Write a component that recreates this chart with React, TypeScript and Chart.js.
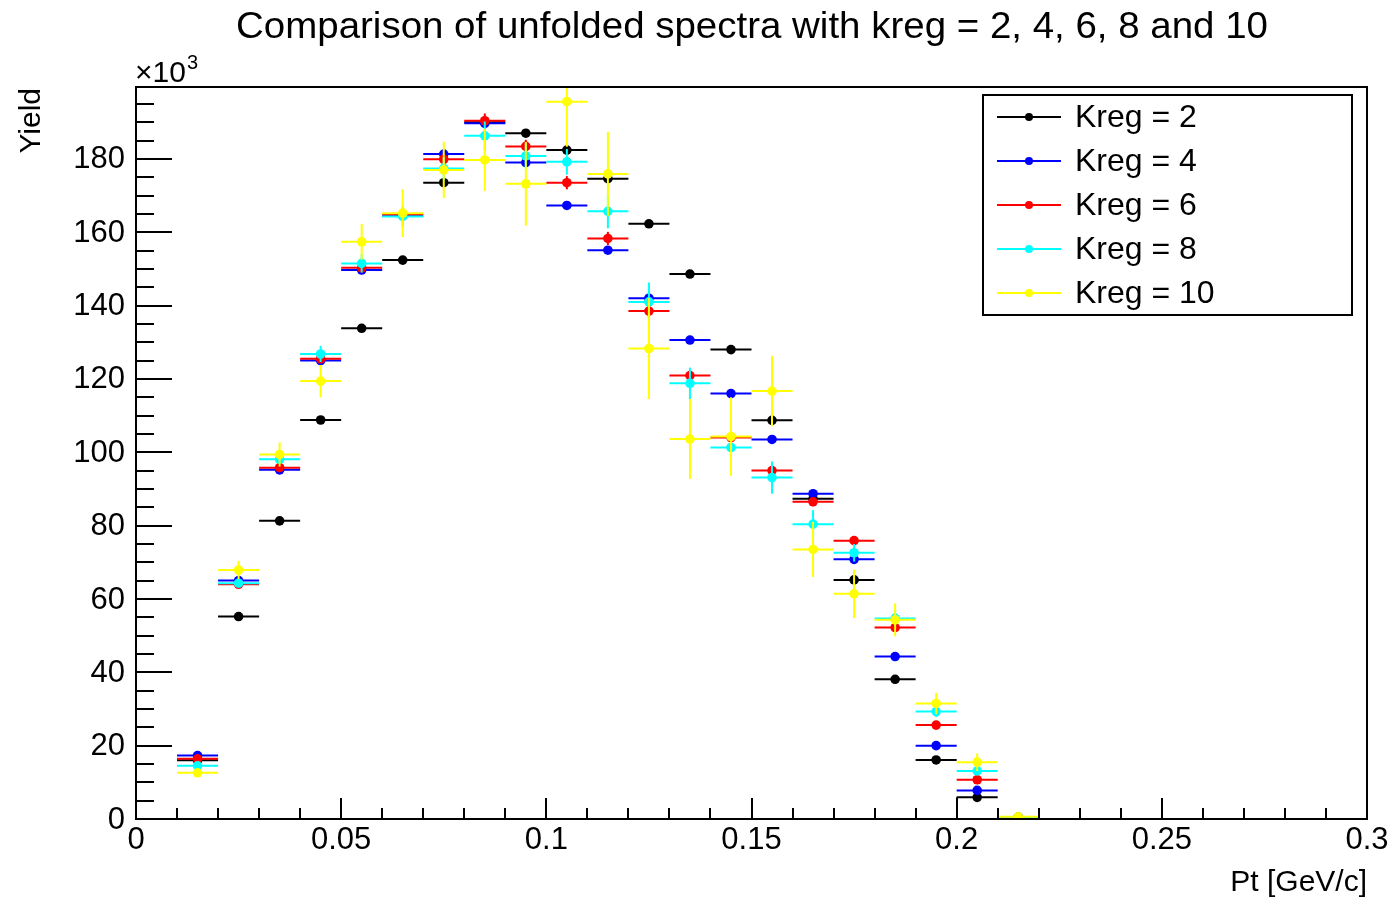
import React, { useEffect, useRef } from "react";
import { Chart, registerables } from "chart.js";

Chart.register(...registerables);

// ---------- data (Yield in units of 10^3) ----------
const ptBins = [
  0.015, 0.025, 0.035, 0.045, 0.055, 0.065, 0.075, 0.085, 0.095, 0.105, 0.115,
  0.125, 0.135, 0.145, 0.155, 0.165, 0.175, 0.185, 0.195, 0.205, 0.215,
];
const binHalfWidth = 0.005;

const yieldKreg2 = [16.0, 55.2, 81.3, 108.8, 133.8, 152.4, 173.5, 190.0, 187.0, 182.4, 174.6, 162.3, 148.6, 128.0, 108.7, 87.3, 65.2, 38.1, 16.1, 5.9, 0.4];
const errKreg2 = [0.2, 0.3, 0.3, 0.4, 0.4, 0.4, 0.5, 0.5, 0.5, 0.5, 0.5, 0.5, 0.5, 0.4, 0.4, 0.4, 0.3, 0.3, 0.2, 0.2, 0.1];

const yieldKreg4 = [17.3, 65.0, 95.2, 125.0, 149.7, 164.5, 181.3, 189.7, 179.0, 167.3, 155.1, 142.0, 130.6, 116.0, 103.5, 88.7, 70.8, 44.3, 20.0, 7.8, 0.4];
const errKreg4 = [0.3, 0.5, 0.6, 0.7, 0.8, 0.8, 0.9, 0.9, 0.9, 0.9, 0.9, 0.9, 0.8, 0.8, 0.7, 0.7, 0.6, 0.5, 0.4, 0.3, 0.1];

const yieldKreg6 = [16.4, 64.0, 95.8, 125.5, 150.3, 164.8, 179.9, 190.4, 183.4, 173.5, 158.3, 138.5, 120.9, 104.0, 95.0, 86.5, 75.9, 52.2, 25.6, 10.7, 0.5];
const errKreg6 = [0.2, 0.5, 0.8, 1.0, 1.2, 1.4, 1.6, 2.0, 1.8, 1.8, 1.8, 1.8, 1.6, 1.5, 1.3, 1.2, 1.0, 0.9, 0.7, 0.5, 0.1];

const yieldKreg8 = [14.5, 64.3, 98.1, 126.8, 151.5, 164.3, 177.4, 186.3, 180.8, 179.2, 165.7, 141.0, 118.8, 101.3, 93.1, 80.4, 72.6, 54.7, 29.3, 13.1, 0.5];
const errKreg8 = [0.3, 0.8, 1.2, 2.2, 2.5, 2.8, 3.0, 3.9, 3.5, 3.5, 4.6, 5.3, 4.3, 4.0, 4.4, 3.8, 2.4, 2.0, 1.5, 1.0, 0.2];

const yieldKreg10 = [12.6, 67.9, 99.4, 119.4, 157.4, 165.2, 177.0, 179.7, 173.2, 195.6, 175.9, 128.3, 103.6, 104.3, 116.7, 73.5, 61.4, 54.3, 31.5, 15.5, 0.6];
const errKreg10 = [0.8, 2.5, 3.3, 4.4, 4.9, 6.5, 7.7, 8.5, 11.4, 12.3, 11.5, 13.8, 10.9, 10.7, 9.6, 7.5, 6.6, 4.5, 2.9, 2.4, 0.3];

const seriesNames = ["Kreg = 2", "Kreg = 4", "Kreg = 6", "Kreg = 8", "Kreg = 10"];
const seriesColors = ["#000000", "#0000ff", "#ff0000", "#00ffff", "#ffff00"];
const seriesYields = [yieldKreg2, yieldKreg4, yieldKreg6, yieldKreg8, yieldKreg10];
const seriesErrors = [errKreg2, errKreg4, errKreg6, errKreg8, errKreg10];

const xTickValues = [0, 0.05, 0.1, 0.15, 0.2, 0.25, 0.3];
const xTickLabels = ["0", "0.05", "0.1", "0.15", "0.2", "0.25", "0.3"];
const yTickValues = [0, 20, 40, 60, 80, 100, 120, 140, 160, 180];
const yTickLabels = ["0", "20", "40", "60", "80", "100", "120", "140", "160", "180"];

const titleText = "Comparison of unfolded spectra with kreg = 2, 4, 6, 8 and 10";
const xAxisTitle = "Pt [GeV/c]";
const yAxisTitle = "Yield";

const FONT = '"Liberation Sans", Arial, Helvetica, sans-serif';

const errorBarPlugin = {
  id: "errorBars",
  beforeDatasetDraw(chart: any, args: any) {
    const ds: any = chart.data.datasets[args.index];
    const xs = chart.scales.x;
    const ys = chart.scales.y;
    const ctx = chart.ctx;
    const a = chart.chartArea;
    ctx.save();
    ctx.beginPath();
    ctx.rect(a.left, a.top, a.right - a.left, a.bottom - a.top);
    ctx.clip();
    ctx.strokeStyle = ds.borderColor;
    ctx.lineWidth = 2;
    ds.data.forEach((p: any, i: number) => {
      const py = ys.getPixelForValue(p.y);
      const xl = xs.getPixelForValue(p.x - binHalfWidth);
      const xr = xs.getPixelForValue(p.x + binHalfWidth);
      const px = xs.getPixelForValue(p.x);
      ctx.beginPath();
      ctx.moveTo(xl, py);
      ctx.lineTo(xr, py);
      ctx.stroke();
      const e = ds.errors[i];
      const yt = ys.getPixelForValue(p.y + e);
      const yb = ys.getPixelForValue(p.y - e);
      if (yb - yt > 3) {
        ctx.beginPath();
        ctx.moveTo(px, yt);
        ctx.lineTo(px, yb);
        ctx.stroke();
      }
    });
    // small ROOT artefact: vertical edge at the low edge of the last filled black bin
    if (args.index === 0) {
      const k = 19;
      const ex = Math.round(xs.getPixelForValue(ptBins[k] - binHalfWidth));
      ctx.beginPath();
      ctx.moveTo(ex, ys.getPixelForValue(seriesYields[0][k]));
      ctx.lineTo(ex, ys.getPixelForValue(0));
      ctx.stroke();
    }
    ctx.restore();
  },
};

const framePlugin = {
  id: "rootFrame",
  afterDraw(chart: any) {
    const ctx = chart.ctx;
    const a = chart.chartArea;
    const xs = chart.scales.x;
    const ys = chart.scales.y;
    ctx.save();
    ctx.strokeStyle = "#000";
    ctx.fillStyle = "#000";
    ctx.lineWidth = 2;
    // frame
    ctx.strokeRect(a.left, a.top, a.right - a.left, a.bottom - a.top);

    // x ticks
    for (let i = 0; i <= 30; i++) {
      const v = i * 0.01;
      const px = Math.round(xs.getPixelForValue(v));
      const len = i % 5 === 0 ? 21 : 11;
      ctx.beginPath();
      ctx.moveTo(px, a.bottom);
      ctx.lineTo(px, a.bottom - len);
      ctx.stroke();
    }
    // y ticks
    for (let i = 0; i * 5 <= ys.max; i++) {
      const v = i * 5;
      const py = Math.round(ys.getPixelForValue(v));
      const len = i % 4 === 0 ? 36 : 18;
      ctx.beginPath();
      ctx.moveTo(a.left, py);
      ctx.lineTo(a.left + len, py);
      ctx.stroke();
    }

    // tick labels
    ctx.font = `31px ${FONT}`;
    ctx.textAlign = "center";
    ctx.textBaseline = "middle";
    xTickValues.forEach((v, i) => {
      ctx.fillText(xTickLabels[i], xs.getPixelForValue(v), a.bottom + 21);
    });
    ctx.textAlign = "right";
    yTickValues.forEach((v, i) => {
      ctx.fillText(yTickLabels[i], a.left - 11, ys.getPixelForValue(v) + 1);
    });

    // x10^3
    ctx.textAlign = "left";
    ctx.textBaseline = "alphabetic";
    ctx.font = `30px ${FONT}`;
    ctx.fillText("\u00d710", a.left - 1, a.top - 5);
    const w = ctx.measureText("\u00d710").width;
    ctx.font = `20px ${FONT}`;
    ctx.fillText("3", a.left - 1 + w + 1, a.top - 18);

    // axis titles
    ctx.font = `30px ${FONT}`;
    ctx.textAlign = "right";
    ctx.fillText(xAxisTitle, a.right, 891);
    ctx.save();
    ctx.translate(40, a.top + 1);
    ctx.rotate(-Math.PI / 2);
    ctx.textAlign = "right";
    ctx.textBaseline = "alphabetic";
    ctx.fillText(yAxisTitle, 0, 0);
    ctx.restore();

    // title
    ctx.font = `36px ${FONT}`;
    ctx.textAlign = "center";
    ctx.textBaseline = "alphabetic";
    const tw = ctx.measureText(titleText).width;
    const targetW = 1032;
    ctx.save();
    ctx.translate(752, 38);
    ctx.scale(targetW / tw, 1);
    ctx.fillText(titleText, 0, 0);
    ctx.restore();

    // legend
    const lx = 983, ly = 95, lw = 369, lh = 220;
    ctx.fillStyle = "#fff";
    ctx.fillRect(lx, ly, lw, lh);
    ctx.strokeStyle = "#000";
    ctx.lineWidth = 2;
    ctx.strokeRect(lx, ly, lw, lh);
    seriesNames.forEach((name, i) => {
      const ry = 117 + i * 44;
      ctx.strokeStyle = seriesColors[i];
      ctx.lineWidth = 2;
      ctx.beginPath();
      ctx.moveTo(997, ry);
      ctx.lineTo(1061, ry);
      ctx.stroke();
      ctx.fillStyle = seriesColors[i];
      ctx.beginPath();
      ctx.arc(1029, ry, 4, 0, Math.PI * 2);
      ctx.fill();
      ctx.fillStyle = "#000";
      ctx.font = `32px ${FONT}`;
      ctx.textAlign = "left";
      ctx.textBaseline = "middle";
      ctx.fillText(name, 1075, ry + 1);
    });
    ctx.restore();
  },
};

export default function App() {
  const ref = useRef<HTMLCanvasElement | null>(null);
  useEffect(() => {
    if (!ref.current) return;
    const datasets = seriesNames.map((name, s) => ({
      label: name,
      data: ptBins.map((x, i) => ({ x, y: seriesYields[s][i] })),
      errors: seriesErrors[s],
      borderColor: seriesColors[s],
      backgroundColor: seriesColors[s],
      pointBackgroundColor: seriesColors[s],
      pointBorderWidth: 0,
      pointRadius: 4.8,
      pointHoverRadius: 4.8,
      showLine: false,
      order: seriesNames.length - s,
    }));
    const chart = new Chart(ref.current, {
      type: "scatter",
      data: { datasets } as any,
      options: {
        animation: false,
        responsive: false,
        devicePixelRatio: 1,
        layout: { padding: { left: 136, right: 27, top: 87, bottom: 80 } },
        plugins: { legend: { display: false }, title: { display: false }, tooltip: { enabled: false } },
        events: [],
        scales: {
          x: { type: "linear", min: 0, max: 0.3, display: false },
          y: { type: "linear", min: 0, max: 199.6, display: false },
        },
      },
      plugins: [errorBarPlugin, framePlugin],
    } as any);
    return () => chart.destroy();
  }, []);
  return (
    <div style={{ position: "absolute", left: 0, top: 0, width: 1394, height: 899, background: "#fff" }}>
      <canvas ref={ref} width={1394} height={899} style={{ display: "block" }} />
    </div>
  );
}
